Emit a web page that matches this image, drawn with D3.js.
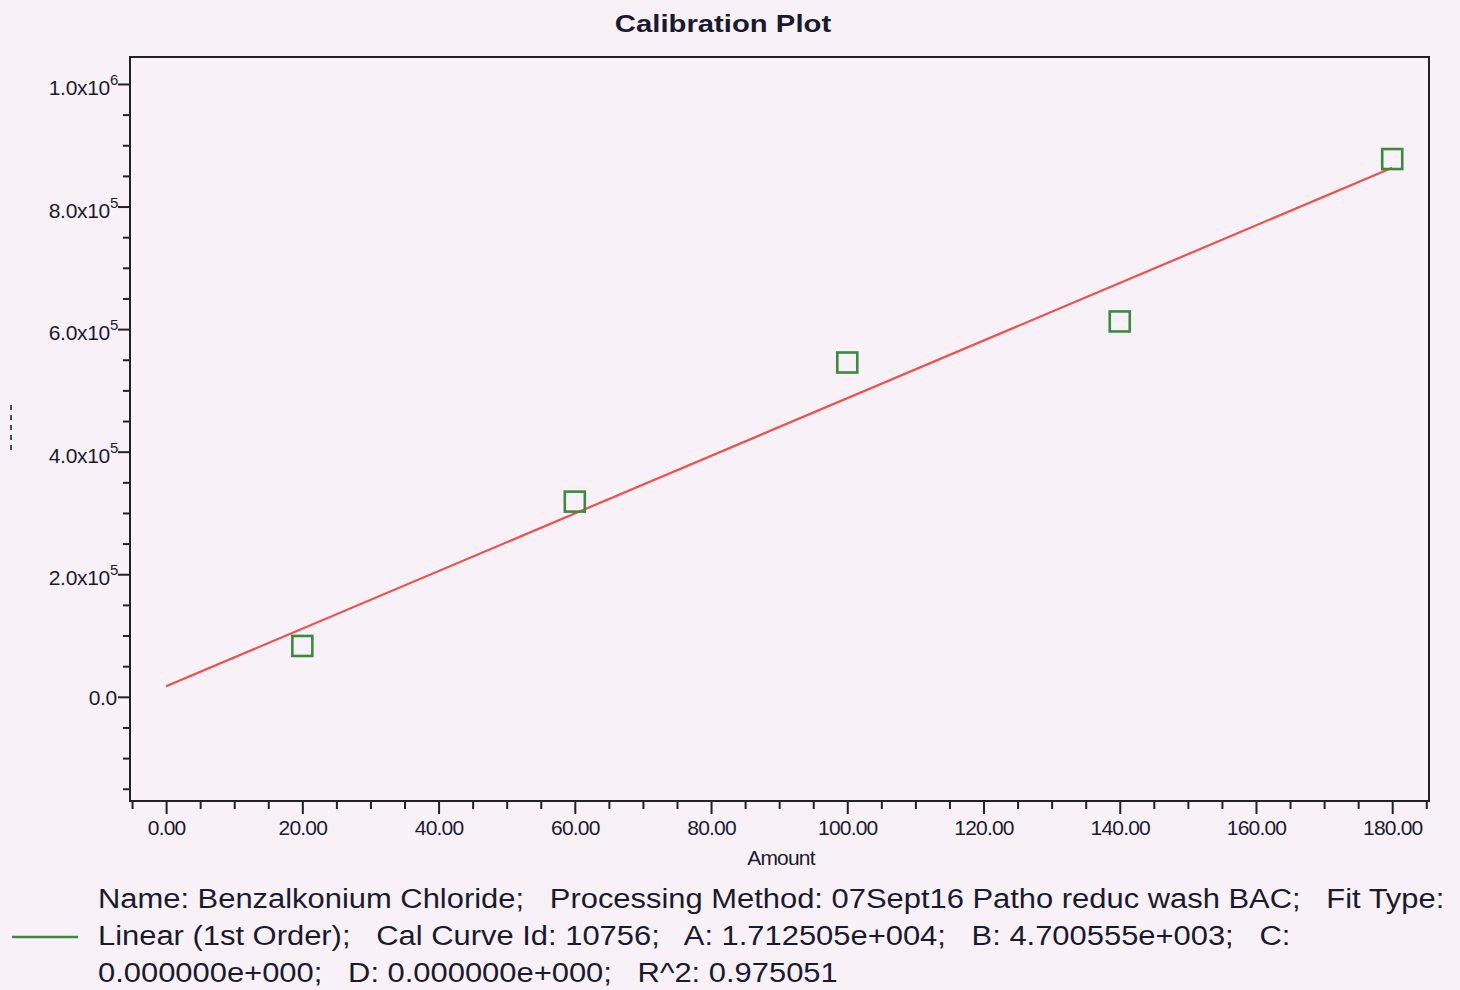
<!DOCTYPE html>
<html>
<head>
<meta charset="utf-8">
<script src="https://cdn.jsdelivr.net/npm/d3@7"></script>
<style>
  html, body { margin: 0; padding: 0; background: #f8f1f8; }
  svg { display: block; }
  text { font-family: "Liberation Sans", Arial, sans-serif; fill: #1a1a2e; }
</style>
</head>
<body>
<svg id="chart" width="1460" height="990"></svg>
<script>
// ---- data ----
const amounts = [20, 60, 100, 140, 180];
const responses = [83000, 318500, 545500, 612500, 877500];
const fitA = 1.712505e4;   // intercept
const fitB = 4.700555e3;   // slope
const fitRange = [0, 180];
const xMajorTicks = [0, 20, 40, 60, 80, 100, 120, 140, 160, 180];
const yMajorTicks = [0, 200000, 400000, 600000, 800000, 1000000];
const yTickLabels = [["0.0", ""], ["2.0x10", "5"], ["4.0x10", "5"], ["6.0x10", "5"], ["8.0x10", "5"], ["1.0x10", "6"]];
const titleText = "Calibration Plot";
const xTitle = "Amount";
const legendLines = [
  "Name: Benzalkonium Chloride;   Processing Method: 07Sept16 Patho reduc wash BAC;   Fit Type:",
  "Linear (1st Order);   Cal Curve Id: 10756;   A: 1.712505e+004;   B: 4.700555e+003;   C:",
  "0.000000e+000;   D: 0.000000e+000;   R^2: 0.975051"
];

// ---- layout ----
const L = 130, R = 1429, T = 57, B = 801;
const svg = d3.select("#chart");

const x = d3.scaleLinear().domain([-5.3, 185.4]).range([L, R]);
const y = d3.scaleLinear().domain([-170000, 1044000]).range([B, T]);

const xMinor = d3.range(-5, 186, 5).filter(v => !xMajorTicks.includes(v));
const yMinor = d3.range(-150000, 1000001, 50000).filter(v => !yMajorTicks.includes(v));

// title
svg.append("text")
  .attr("transform", `translate(723,32) scale(1.22,1)`)
  .attr("text-anchor", "middle")
  .style("font-size", "24px").style("font-weight", "bold")
  .text(titleText);

// x axis minor & major
const gx = svg.append("g").attr("transform", `translate(0,${B})`);
gx.call(d3.axisBottom(x).tickValues(xMinor).tickSize(8).tickFormat(""));
const gxM = svg.append("g").attr("transform", `translate(0,${B})`);
gxM.call(d3.axisBottom(x).tickValues(xMajorTicks).tickSize(13).tickPadding(6)
  .tickFormat(d => d3.format(".2f")(d)));
[gx, gxM].forEach(g => {
  g.select(".domain").remove();
  g.selectAll(".tick line").attr("stroke", "#222").attr("stroke-width", 2);
});
gxM.selectAll(".tick text").style("font-size", "21px").style("letter-spacing", "-0.8px")
  .attr("fill", "#1a1a2e").attr("font-family", null);

// y axis
const gy = svg.append("g").attr("transform", `translate(${L},0)`);
gy.call(d3.axisLeft(y).tickValues(yMinor).tickSize(7).tickFormat(""));
const gyM = svg.append("g").attr("transform", `translate(${L},0)`);
gyM.call(d3.axisLeft(y).tickValues(yMajorTicks).tickSize(12).tickFormat(""));
[gy, gyM].forEach(g => {
  g.select(".domain").remove();
  g.selectAll(".tick line").attr("stroke", "#222").attr("stroke-width", 2);
});
yMajorTicks.forEach((v, i) => {
  const [base, exp] = yTickLabels[i];
  svg.append("text")
    .attr("x", exp ? L - 20 : L - 13)
    .attr("y", y(v) + (exp ? 11 : 8))
    .attr("text-anchor", "end")
    .style("font-size", "21px").style("letter-spacing", "-0.3px")
    .text(base);
  if (exp) {
    svg.append("text")
      .attr("x", L - 20)
      .attr("y", y(v) + 1)
      .style("font-size", "15px")
      .text(exp);
  }
});

// frame
svg.append("rect").attr("x", L).attr("y", T).attr("width", R - L).attr("height", B - T)
  .attr("fill", "none").attr("stroke", "#222").attr("stroke-width", 2);

// x title
svg.append("text").attr("x", 781).attr("y", 865).attr("text-anchor", "middle")
  .style("font-size", "21px").style("letter-spacing", "-0.8px").text(xTitle);

// fit line
const fitData = fitRange.map(v => [v, fitA + fitB * v]);
svg.append("path")
  .datum(fitData)
  .attr("d", d3.line().x(d => x(d[0])).y(d => y(d[1])))
  .attr("stroke", "#f0504a").attr("stroke-width", 2.2).attr("fill", "none");

// points
const sz = 20;
svg.append("g").selectAll("rect").data(amounts.map((a, i) => [a, responses[i]]))
  .join("rect")
  .attr("x", d => x(d[0]) - sz / 2).attr("y", d => y(d[1]) - sz / 2)
  .attr("width", sz).attr("height", sz)
  .attr("fill", "none").attr("stroke", "#3b8a3f").attr("stroke-width", 2.6);

// faint y-axis title marker
svg.append("line").attr("x1", 11).attr("x2", 11).attr("y1", 405).attr("y2", 451)
  .attr("stroke", "#3a4aa0").attr("stroke-width", 2).attr("stroke-dasharray", "5,5");

// legend
svg.append("line").attr("x1", 12).attr("x2", 78).attr("y1", 937).attr("y2", 937)
  .attr("stroke", "#3b8a3f").attr("stroke-width", 2.5);
legendLines.forEach((s, i) => {
  svg.append("text")
    .attr("transform", `translate(98,${908 + i * 37}) scale(1.145,1)`)
    .style("font-size", "27px")
    .style("white-space", "pre")
    .text(s);
});
</script>
</body>
</html>
